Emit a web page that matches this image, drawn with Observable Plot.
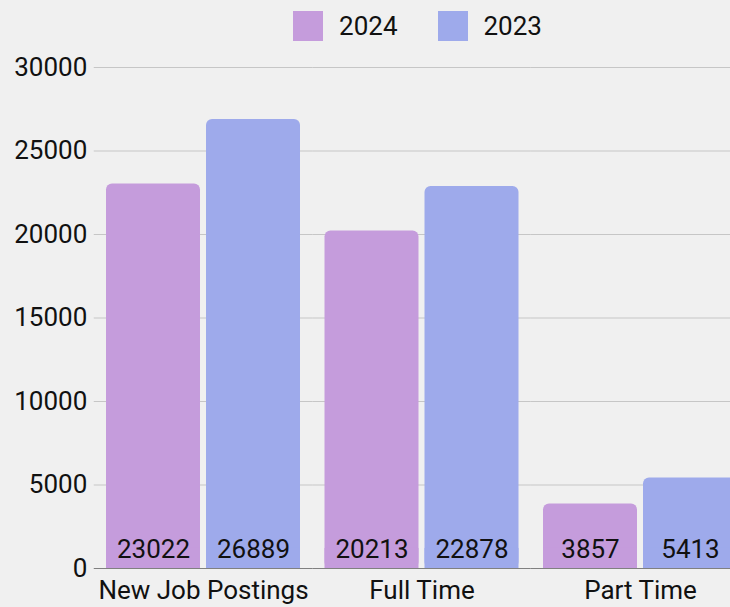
<!DOCTYPE html>
<html>
<head>
<meta charset="utf-8">
<script src="https://cdn.jsdelivr.net/npm/d3@7"></script>
<script src="https://cdn.jsdelivr.net/npm/@observablehq/plot@0.6"></script>
<style>
  html, body { margin: 0; padding: 0; background: #f0f0f0; }
  body { width: 730px; height: 607px; overflow: hidden; font-family: Roboto, "Liberation Sans", sans-serif; color: #111; }
  #legend { height: 50px; display: flex; align-items: center; justify-content: center; padding-left: 105px; box-sizing: border-box; width: 730px; padding-top: 2px; }
  .item { display: flex; align-items: center; font-size: 26px; }
  .item + .item { margin-left: 40px; }
  .sw { width: 30px; height: 30px; margin-right: 16px; }
  #chart svg { display: block; }
</style>
</head>
<body>
<div id="legend"></div>
<div id="chart"></div>
<script>
const categories = ["New Job Postings", "Full Time", "Part Time"];
const seriesNames = ["2024", "2023"];
const values2024 = [23022, 20213, 3857];
const values2023 = [26889, 22878, 5413];
const yTicks = [0, 5000, 10000, 15000, 20000, 25000, 30000];
const seriesColors = ["#c59cdc", "#9eaaeb"];

const rows = categories.flatMap((c, i) => [
  {category: c, series: "2024", value: values2024[i]},
  {category: c, series: "2023", value: values2023[i]}
]);

const legend = document.getElementById("legend");
seriesNames.forEach((s, i) => {
  const it = document.createElement("div");
  it.className = "item";
  const sw = document.createElement("div");
  sw.className = "sw";
  sw.style.background = seriesColors[i];
  it.appendChild(sw);
  const t = document.createElement("span");
  t.textContent = s;
  it.appendChild(t);
  legend.appendChild(it);
});

const chart = Plot.plot({
  width: 730,
  height: 557,
  marginTop: 17,
  marginBottom: 39,
  marginLeft: 93.75,
  marginRight: -19.25,
  style: {background: "#f0f0f0", fontSize: "26px", fontFamily: "Roboto, 'Liberation Sans', sans-serif", color: "#111", overflow: "hidden"},
  facet: {data: rows, x: "category"},
  fx: {domain: categories, paddingInner: 0, paddingOuter: 0, round: false, label: null, tickSize: 0, tickPadding: 12, axis: "bottom"},
  x: {domain: seriesNames, paddingInner: 0.06, paddingOuter: 0.1225, round: false, axis: null},
  y: {domain: [0, 30000], ticks: yTicks, tickFormat: d => String(d), tickSize: 0, tickPadding: 7, label: null},
  color: {domain: seriesNames, range: seriesColors},
  marks: [
    Plot.ruleY(yTicks.slice(1), {stroke: "#c6c6c6", strokeWidth: 1}),
    Plot.barY(rows, {x: "series", y: "value", fill: "series", rx: 6}),
    // square off the bottom corners (only the top corners are rounded)
    Plot.barY(rows, {x: "series", y: d => Math.min(d.value / 2, 1200), fill: "series"}),
    Plot.ruleY([0], {stroke: "#808080", strokeWidth: 1.2}),
    Plot.text(rows, {x: "series", y: 0, text: d => String(d.value), dy: -19, fill: "#111", fontSize: 26})
  ]
});
document.getElementById("chart").appendChild(chart);
</script>
</body>
</html>
